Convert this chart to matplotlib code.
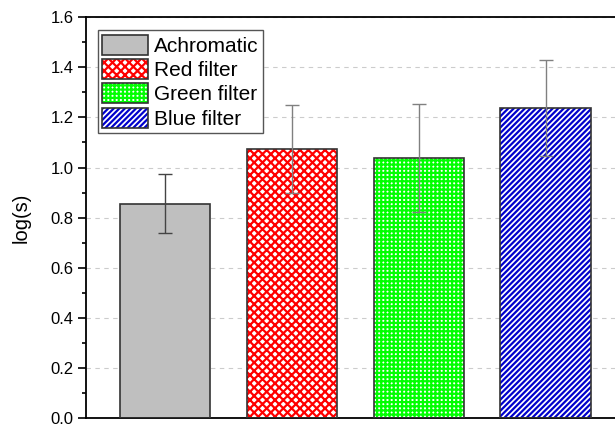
import matplotlib.pyplot as plt
import numpy as np

plt.rcParams['font.family'] = ['Liberation Sans', 'DejaVu Sans']
plt.rcParams['hatch.linewidth'] = 1.6

labels = ['Achromatic', 'Red filter', 'Green filter', 'Blue filter']
values = [0.856, 1.073, 1.037, 1.237]
errors = [0.118, 0.176, 0.215, 0.192]
faces = ['#bfbfbf', 'white', 'white', 'white']
hatch_colors = ['#bfbfbf', '#ff0000', '#00ff00', '#0000cc']
hatches = [None, 'xxxx', '++++', '//////']
err_colors = ['#444444', '#808080', '#808080', '#808080']

fig = plt.figure(figsize=(6.15, 4.28), dpi=100)
ax = fig.add_axes([0.14, 0.023, 0.875, 0.937])

x = np.arange(1, len(values) + 1)
handles = []
for i in range(len(values)):
    b1 = ax.bar(x[i], values[i], width=0.71, color=faces[i], hatch=hatches[i],
                edgecolor=hatch_colors[i], linewidth=0, zorder=2)
    b2 = ax.bar(x[i], values[i], width=0.71, fill=False, edgecolor='#333333',
                linewidth=1.2, zorder=3)
    ax.errorbar(x[i], values[i], yerr=errors[i], fmt='none', ecolor=err_colors[i],
                elinewidth=1.0, capsize=5, capthick=1.0, zorder=4)
    handles.append((b1[0], b2[0]))

ax.set_xlim(0.38, 4.62)
ax.set_ylim(0, 1.6)
ax.set_yticks(np.arange(0, 1.61, 0.2))
ax.set_yticks(np.arange(0.1, 1.6, 0.2), minor=True)
ax.set_yticklabels([f'{v:.1f}' for v in np.arange(0, 1.61, 0.2)])
ax.set_xticks([])
ax.tick_params(axis='y', which='major', direction='out', length=6, width=1.2,
               labelsize=12, pad=3)
ax.tick_params(axis='y', which='minor', direction='out', length=3, width=1.2)
ax.yaxis.grid(True, linestyle=(0, (4, 4)), color='#cccccc', linewidth=0.8, zorder=0)
ax.set_axisbelow(True)
for s in ax.spines.values():
    s.set_linewidth(1.3)
ax.set_ylabel('log(s)', fontsize=14.5, labelpad=14)

leg = ax.legend(handles, labels, loc='upper left', bbox_to_anchor=(0.022, 0.967),
                fontsize=15, fancybox=False, edgecolor='#555555', framealpha=1,
                handlelength=2.2, handleheight=1.1, handletextpad=0.3,
                borderpad=0.2, labelspacing=0.16, borderaxespad=0)

fig.savefig('out.png', dpi=100)
